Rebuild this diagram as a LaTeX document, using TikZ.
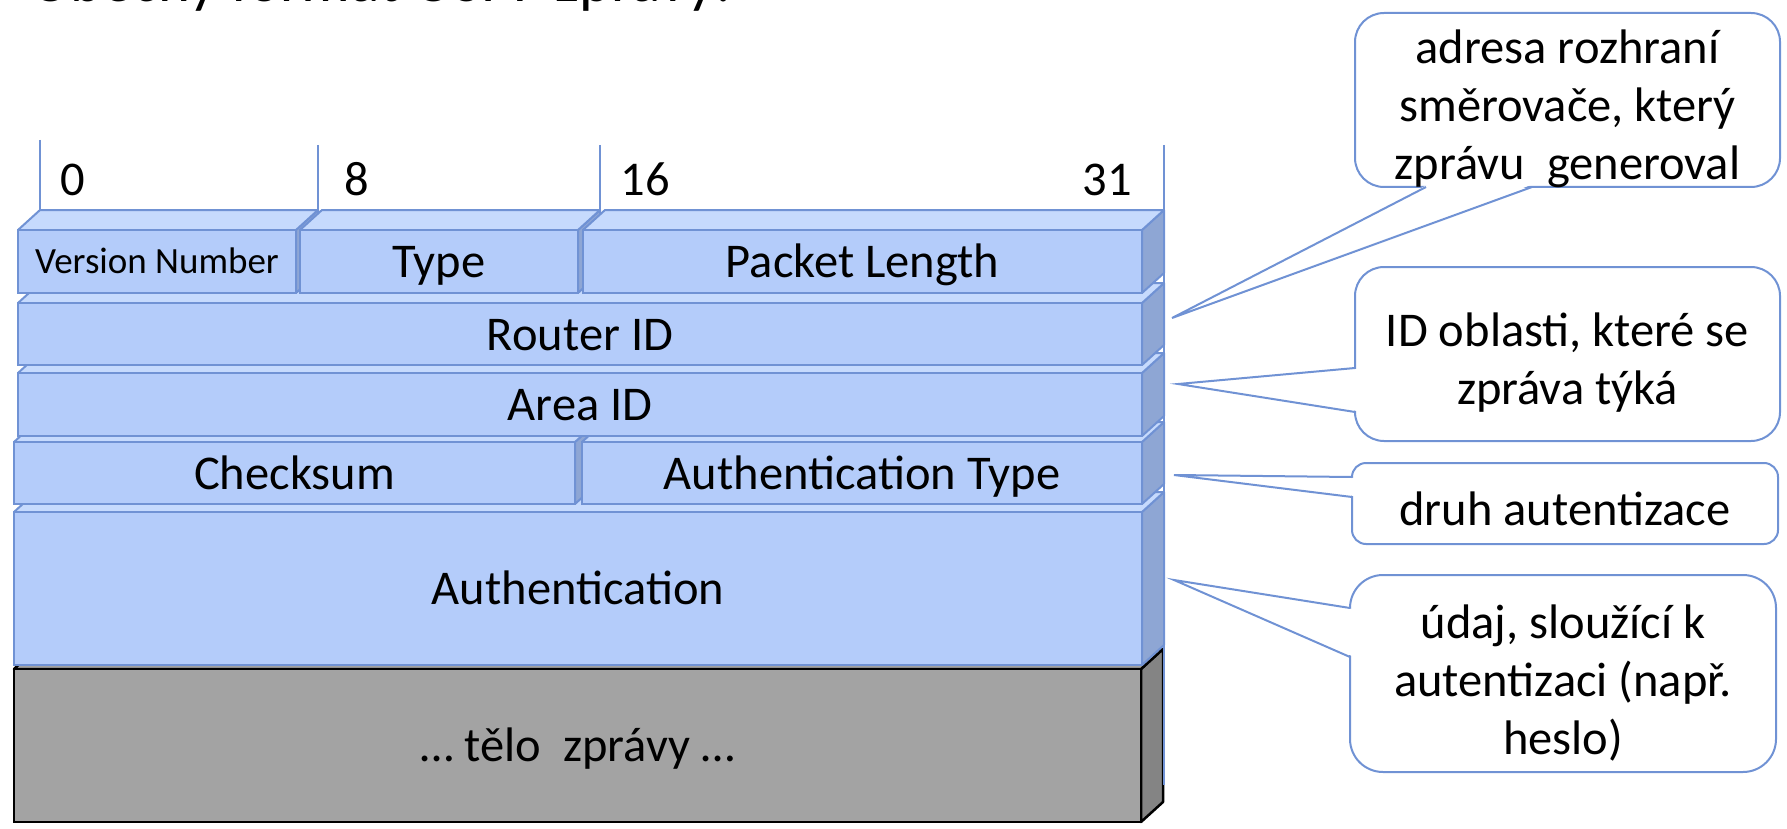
\documentclass[tikz,border=0pt]{standalone}
\usepackage{fontspec}
\setmainfont{Carlito}
\usetikzlibrary{calc}
\definecolor{bfront}{RGB}{180,204,250}
\definecolor{btop}{RGB}{198,218,253}
\definecolor{bside}{RGB}{142,166,212}
\definecolor{bline}{RGB}{112,146,212}
\definecolor{gfront}{RGB}{163,163,163}
\definecolor{gside}{RGB}{132,132,132}
\tikzset{
  bluside/.style={fill=bside, draw=bline, line width=2pt, line join=round},
  blutop/.style={fill=btop, draw=bline, line width=2pt, line join=round},
  blufront/.style={fill=bfront, draw=bline, line width=2pt},
  grayside/.style={fill=gside, draw=black, line width=2.5pt, line join=round},
  graytop/.style={fill=gfront, draw=black, line width=2.5pt, line join=round},
  grayfront/.style={fill=gfront, draw=black, line width=2.5pt},
  lbl/.style={font=\fontsize{48.5}{58}\selectfont, inner sep=0pt, text height=32pt, text depth=0pt},
  lblsmall/.style={font=\fontsize{37}{44}\selectfont, inner sep=0pt, text height=24pt, text depth=0pt},
  ruler/.style={draw=bline, line width=2pt},
  callbox/.style={draw=bline, fill=white, line width=2pt, inner sep=0pt, outer sep=0pt},
  calltext/.style={align=center, inner sep=0pt, font=\fontsize{48.5}{58}\selectfont},
  callline/.style={draw=bline, line width=2pt, line join=miter},
}
% #1 name, #2 x1, #3 y1, #4 x2, #5 y2, #6 kind, #7 label style, #8 text
\newcommand\cub[8]{%
  \path[#6side] (#4,#3) -- (#4+22,#3-20) -- (#4+22,#5-20) -- (#4,#5) -- cycle;
  \path[#6top] (#2,#3) -- (#2+22,#3-20) -- (#4+22,#3-20) -- (#4,#3) -- cycle;
  \path[#6front] (#2,#3) rectangle (#4,#5);
  \node[#7] (#1) at ({(#2+#4)/2},{(#3+#5)/2}) {#8};
}
\begin{document}
\begin{tikzpicture}[x=1pt,y=-1pt]
\useasboundingbox (0,0) rectangle (1787,829);
\begin{scope}
\clip (0,0) rectangle (1787,829);
\node[anchor=base west, inner sep=0pt, font=\fontsize{61}{70}\selectfont] (title) at (30,2) {Obecný formát OSPF zprávy:};
\end{scope}

% stacked blocks, from bottom to top
\cub{body}{14}{669}{1141}{822}{gray}{lbl}{… tělo\ \ zprávy …}
\cub{auth}{14}{512}{1142}{665}{blu}{lbl}{Authentication}
\cub{chk}{14}{442}{575}{504}{blu}{lbl}{Checksum}
\cub{atype}{582}{442}{1142}{504}{blu}{lbl}{Authentication Type}
\cub{area}{18}{373}{1142}{436}{blu}{lbl}{Area ID}
\cub{rid}{18}{303}{1142}{365}{blu}{lbl}{Router ID}
\cub{ver}{18}{230}{296}{293}{blu}{lblsmall}{Version Number}
\cub{type}{300}{230}{578}{293}{blu}{lbl}{Type}
\cub{plen}{583}{230}{1142}{293}{blu}{lbl}{Packet Length}

% ruler
\coordinate (r0a) at (40,140);  \coordinate (r0b) at (40,210);
\coordinate (r8a) at (318,145); \coordinate (r8b) at (318,210);
\coordinate (r16a) at (600,145); \coordinate (r16b) at (600,210);
\coordinate (r31a) at (1164,145); \coordinate (r31b) at (1164,785);
\draw[ruler] (r0a) -- (r0b);
\draw[ruler] (r8a) -- (r8b);
\draw[ruler] (r16a) -- (r16b);
\draw[ruler] (r31a) -- (r31b);
\node[lbl] (b0) at (73,180) {0};
\node[lbl] (b8) at (357,180) {8};
\node[lbl] (b16) at (645,180) {16};
\node[lbl] (b31) at (1107,180) {31};

% callouts
\node[callbox, rounded corners=29pt, minimum width=425pt, minimum height=174pt] (c1) at (1567.5,100) {};
\node[callbox, rounded corners=29pt, minimum width=425pt, minimum height=174pt] (c2) at (1567.5,354) {};
\node[callbox, rounded corners=14pt, minimum width=426pt, minimum height=81pt] (c3) at (1565,503.5) {};
\node[callbox, rounded corners=33pt, minimum width=426pt, minimum height=197pt] (c4) at (1563,673.5) {};

\coordinate (t1) at (1172,318);
\coordinate (t2) at (1178,384);
\coordinate (t3) at (1174,475);
\coordinate (t4) at (1174,580);

% pointer of c1 (bottom edge)
\fill[white] ($(c1.south west)+(72,-2)$) -- (t1) -- ($(c1.south west)+(176,-2)$) -- cycle;
\draw[callline] ($(c1.south west)+(71,0)$) -- (t1) -- ($(c1.south west)+(177,0)$);
% pointer of c2 (left edge)
\fill[white] ($(c2.north west)+(2,102)$) -- (t2) -- ($(c2.north west)+(2,144)$) -- cycle;
\draw[callline] ($(c2.north west)+(0,101)$) -- (t2) -- ($(c2.north west)+(0,145)$);
% pointer of c3
\fill[white] ($(c3.north west)+(2,15)$) -- (t3) -- ($(c3.north west)+(2,33)$) -- cycle;
\draw[callline] ($(c3.north west)+(0,14)$) -- (t3) -- ($(c3.north west)+(0,34)$);
% pointer of c4
\fill[white] ($(c4.north west)+(2,34)$) -- (t4) -- ($(c4.north west)+(2,81)$) -- cycle;
\draw[callline] ($(c4.north west)+(0,33)$) -- (t4) -- ($(c4.north west)+(0,82)$);

% callout texts
\node[calltext] (c1t) at ($(c1.center)+(0,9)$) {adresa rozhraní\\směrovače, který\\zprávu\ \ generoval};
\node[calltext] (c2t) at ($(c2.center)+(0,9)$) {ID oblasti, které se\\zpráva týká};
\node[calltext] (c3t) at ($(c3.center)+(0,5)$) {druh autentizace};
\node[calltext] (c4t) at ($(c4.center)+(0,10)$) {údaj, sloužící k\\autentizaci (např.\\heslo)};
\end{tikzpicture}
\end{document}
